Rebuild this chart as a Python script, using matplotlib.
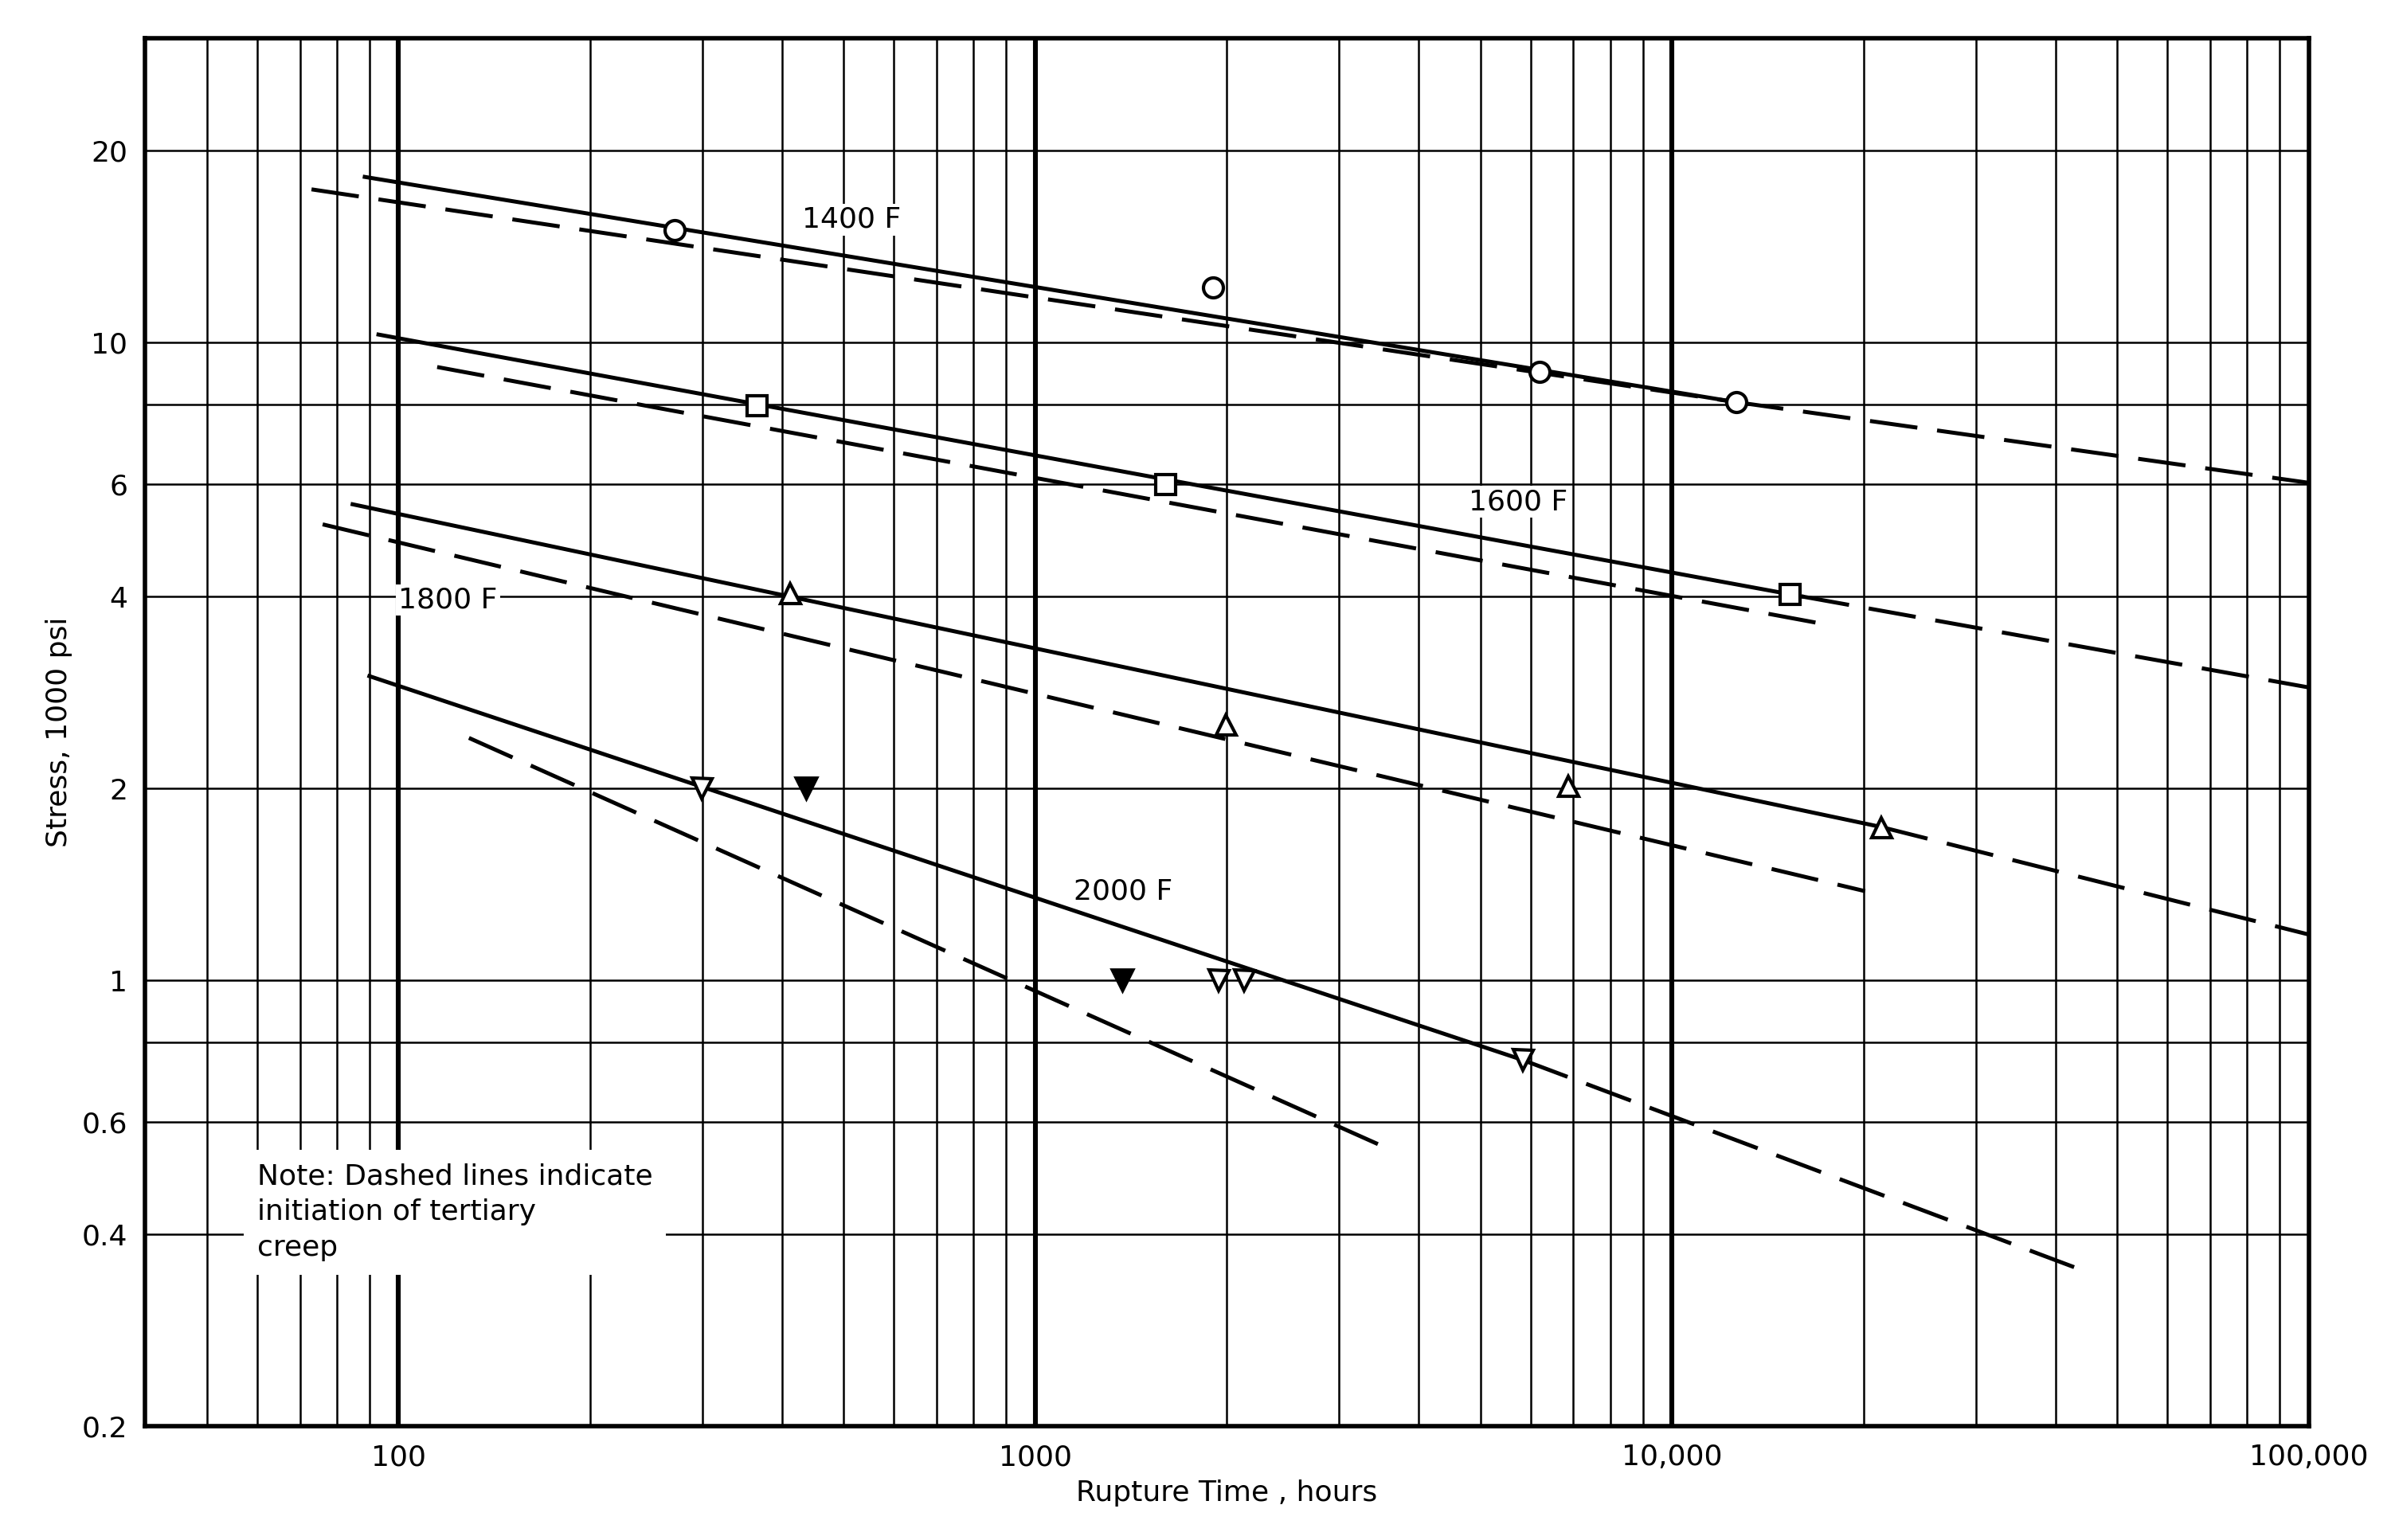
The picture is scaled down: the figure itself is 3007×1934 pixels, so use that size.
import matplotlib
matplotlib.use("Agg")
import matplotlib.pyplot as plt
import numpy as np

# solid rupture lines (endpoints) and dashed segments
lines_solid = {
    "1400": ([88.5, 12600], [18.2, 8.07]),
    "1600": ([93, 16000], [10.3, 4.0]),
    "1800": ([84.7, 21300], [5.58, 1.74]),
    "2000": ([90, 5830], [3.0, 0.75]),
}
lines_ext = {
    "1400": ([12600, 100000], [8.07, 6.03]),
    "1600": ([16000, 100000], [4.0, 2.88]),
    "1800": ([21300, 100000], [1.74, 1.18]),
    "2000": ([5830, 42800], [0.75, 0.355]),
}
lines_tert = {
    "1400": ([73, 12600], [17.4, 8.07]),
    "1600": ([115, 17070], [9.16, 3.63]),
    "1800": ([76, 20100], [5.19, 1.38]),
    "2000": ([129, 3650], [2.4, 0.54]),
}
pts_1400_t = [271, 1900, 6190, 12600]; pts_1400_s = [15.0, 12.2, 9.0, 8.07]
pts_1600_t = [365, 1600, 15300]; pts_1600_s = [7.98, 6.0, 4.03]
pts_1800_t = [412, 1990, 6870, 21300]; pts_1800_s = [4.05, 2.52, 2.02, 1.74]
pts_2000o_t = [299, 1940, 2130, 5830]; pts_2000o_s = [2.0, 1.0, 1.0, 0.75]
pts_2000f_t = [437, 1370]; pts_2000f_s = [2.0, 1.0]

fig = plt.figure(figsize=(15.035, 9.67), dpi=200)
ax = fig.add_axes([0.0606, 0.074, 0.9034, 0.901])
ax.set_xscale("log"); ax.set_yscale("log")
ax.set_xlim(40, 100000); ax.set_ylim(0.2, 30)

for d in [10, 100, 1000, 10000]:
    for m in range(1, 10):
        v = d * m
        if 40 <= v <= 100000:
            ax.axvline(v, color="k", lw=2.2 if m == 1 else 0.9, zorder=0)
for v in [0.2, 0.4, 0.6, 0.8, 1, 2, 4, 6, 8, 10, 20]:
    ax.axhline(v, color="k", lw=0.9, zorder=0)

for k in lines_solid:
    ax.plot(*lines_solid[k], color="k", lw=1.8)
    ax.plot(*lines_ext[k], color="k", lw=1.8, dashes=(12, 5))
    ax.plot(*lines_tert[k], color="k", lw=1.8, dashes=(12, 5))

mk = dict(mfc="white", mec="k", mew=1.5, ms=9, ls="none", zorder=5)
ax.plot(pts_1400_t, pts_1400_s, marker="o", **mk)
ax.plot(pts_1600_t, pts_1600_s, marker="s", **mk)
ax.plot(pts_1800_t, pts_1800_s, marker="^", **mk)
ax.plot(pts_2000o_t, pts_2000o_s, marker="v", **mk)
ax.plot(pts_2000f_t, pts_2000f_s, marker="v", mfc="k", mec="k", ms=10, ls="none", zorder=5)

fs = 13
bb = dict(fc="white", ec="none", pad=1)
ax.text(430, 15.6, "1400 F", fontsize=fs, va="center", bbox=bb)
ax.text(4800, 5.63, "1600 F", fontsize=fs, va="center", bbox=bb)
ax.text(100, 3.95, "1800 F", fontsize=fs, va="center", bbox=bb)
ax.text(1150, 1.38, "2000 F", fontsize=fs, va="center", bbox=bb)
ax.text(60, 0.37, "Note: Dashed lines indicate\ninitiation of tertiary\ncreep", fontsize=fs,
        linespacing=1.4, bbox=dict(fc="white", ec="none", pad=6))

ax.set_xticks([100, 1000, 10000, 100000])
ax.set_xticklabels(["100", "1000", "10,000", "100,000"], fontsize=fs)
ax.set_xticks([], minor=True)
ax.set_yticks([0.2, 0.4, 0.6, 1, 2, 4, 6, 10, 20])
ax.set_yticklabels(["0.2", "0.4", "0.6", "1", "2", "4", "6", "10", "20"], fontsize=fs)
ax.set_yticks([], minor=True)
ax.tick_params(length=0, pad=8)
ax.set_xlabel("Rupture Time , hours", fontsize=fs)
ax.set_ylabel("Stress, 1000 psi", fontsize=fs)
for s in ax.spines.values():
    s.set_linewidth(2)
fig.savefig("out.png", dpi=200)
